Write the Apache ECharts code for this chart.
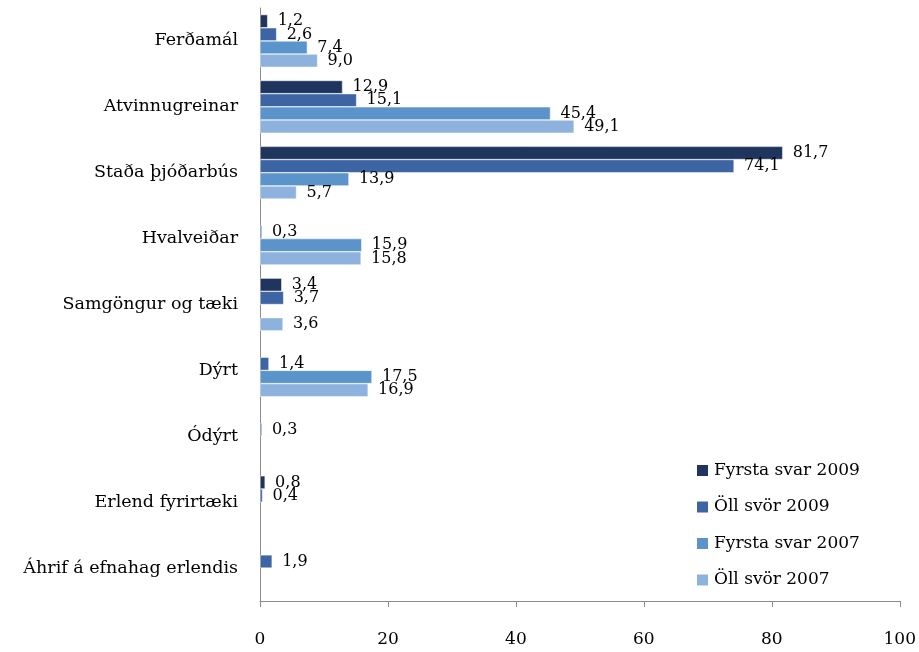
<!DOCTYPE html>
<html>
<head>
<meta charset="utf-8">
<script src="https://cdn.jsdelivr.net/npm/echarts@6/dist/echarts.min.js"></script>
<style>
  html, body { margin: 0; padding: 0; background: #fff; }
  #chart { width: 919px; height: 652px; }
</style>
</head>
<body>
<div id="chart"></div>
<script>
// Categories, top to bottom
const categories = [
  'Ferðamál',
  'Atvinnugreinar',
  'Staða þjóðarbús',
  'Hvalveiðar',
  'Samgöngur og tæki',
  'Dýrt',
  'Ódýrt',
  'Erlend fyrirtæki',
  'Áhrif á efnahag erlendis'
];

const seriesNames = ['Fyrsta svar 2009', 'Öll svör 2009', 'Fyrsta svar 2007', 'Öll svör 2007'];

// Percentages per category (null = no answer in that group)
const fyrstaSvar2009 = [1.2, 12.9, 81.7, null, 3.4, null, null, 0.8, null];
const ollSvor2009    = [2.6, 15.1, 74.1, 0.3, 3.7, 1.4, 0.3, 0.4, 1.9];
const fyrstaSvar2007 = [7.4, 45.4, 13.9, 15.9, null, 17.5, null, null, null];
const ollSvor2007    = [9.0, 49.1, 5.7, 15.8, 3.6, 16.9, null, null, null];

const xTicks = [0, 20, 40, 60, 80, 100];

const colors = ['#1f355e', '#3d64a3', '#5b93cb', '#8cb2dd'];
const font = '"DejaVu Serif", "Liberation Serif", serif';

const seriesData = [fyrstaSvar2009, ollSvor2009, fyrstaSvar2007, ollSvor2007];

const chart = echarts.init(document.getElementById('chart'));
chart.setOption({
  animation: false,
  textStyle: { fontFamily: font },
  color: colors,
  grid: { left: 260, right: 18, top: 8, bottom: 51, containLabel: false },
  legend: {
    orient: 'vertical',
    left: 690,
    top: 457,
    itemWidth: 13,
    itemHeight: 13,
    itemGap: 19.5,
    icon: 'rect',
    textStyle: { fontFamily: font, fontSize: 17, color: '#000' },
    data: seriesNames
  },
  xAxis: {
    type: 'value',
    min: xTicks[0],
    max: xTicks[xTicks.length - 1],
    interval: 20,
    splitLine: { show: false },
    axisLine: { show: true, lineStyle: { color: '#8c8c8c', width: 1 } },
    axisTick: { show: true, length: 6, lineStyle: { color: '#8c8c8c' } },
    axisLabel: { margin: 30, fontFamily: font, fontSize: 17, color: '#000' }
  },
  yAxis: {
    type: 'category',
    data: categories,
    inverse: true,
    axisLine: { show: true, lineStyle: { color: '#8c8c8c', width: 1 } },
    axisTick: { show: false },
    axisLabel: { margin: 22, fontFamily: font, fontSize: 17.5, color: '#000' }
  },
  series: seriesNames.map((name, i) => ({
    name: name,
    type: 'bar',
    data: seriesData[i],
    barGap: '0%',
    barCategoryGap: '20%',
    itemStyle: { color: colors[i], borderColor: '#ffffff', borderWidth: 0.5 },
    label: {
      show: true,
      position: 'right',
      distance: 10,
      fontFamily: font,
      fontSize: 16,
      color: '#000',
      formatter: p => p.value == null ? '' : Number(p.value).toFixed(1).replace('.', ',')
    }
  }))
});
</script>
</body>
</html>
